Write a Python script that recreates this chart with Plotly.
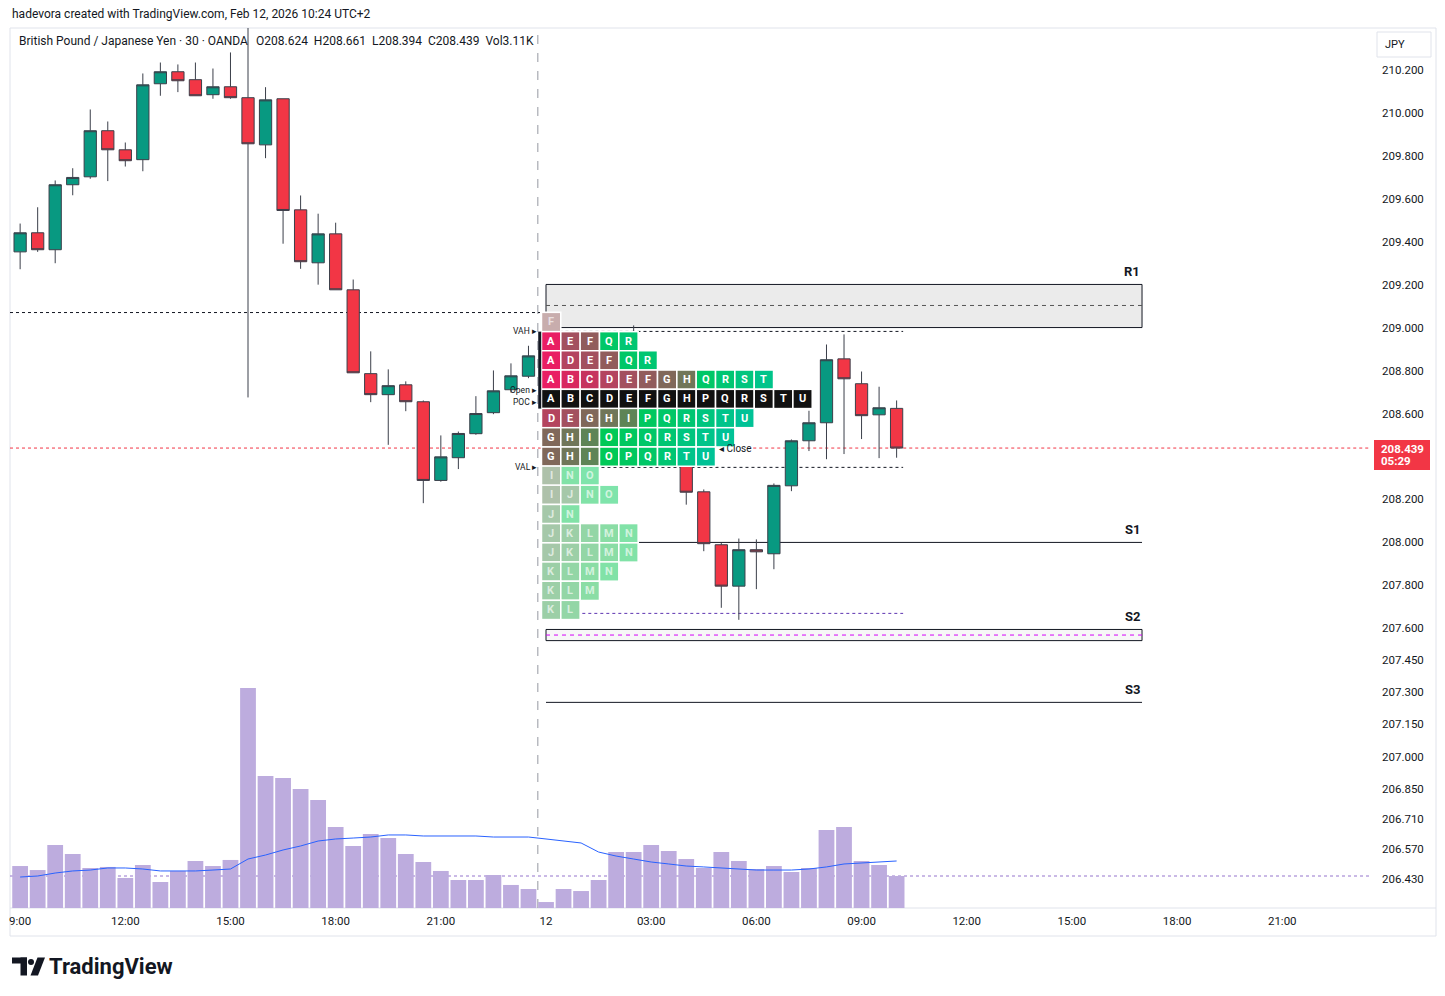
import plotly.graph_objects as go

# ---------------- DATA ----------------
day1_times = ["09:00", "09:30", "10:00", "10:30", "11:00", "11:30", "12:00", "12:30", "13:00", "13:30",
              "14:00", "14:30", "15:00", "15:30", "16:00", "16:30", "17:00", "17:30", "18:00", "18:30",
              "19:00", "19:30", "20:00", "20:30", "21:00", "21:30", "22:00", "22:30", "23:00", "23:30"]
day2_times = ["00:00", "00:30", "01:00", "01:30", "02:00", "02:30", "03:00", "03:30", "04:00", "04:30",
              "05:00", "05:30", "06:00", "06:30", "07:00", "07:30", "08:00", "08:30", "09:00", "09:30", "10:00"]
times = ["2026-02-11 " + t for t in day1_times] + ["2026-02-12 " + t for t in day2_times]

opens = [209.354, 209.443, 209.364, 209.667, 209.704, 209.919, 209.830, 209.784, 210.138, 210.194,
         210.157, 210.087, 210.124, 210.073, 209.853, 210.068, 209.550, 209.303, 209.438, 209.177,
         208.786, 208.688, 208.734, 208.655, 208.288, 208.394, 208.506, 208.604, 208.711, 208.774,
         208.698, 208.778, 208.731, 208.764, 208.838, 208.840, 208.708, 208.405, 208.544, 208.235,
         207.988, 207.795, 207.965, 207.946, 208.263, 208.473, 208.557, 208.855, 208.739, 208.594, 208.624]
highs = [209.486, 209.562, 209.687, 209.744, 210.018, 209.962, 209.864, 210.186, 210.237, 210.228,
         210.237, 210.209, 210.284, 210.433, 210.122, 210.068, 209.617, 209.532, 209.490, 209.225,
         208.890, 208.806, 208.750, 208.661, 208.498, 208.516, 208.681, 208.801, 208.834, 208.916,
         208.978, 208.796, 208.792, 208.885, 208.969, 209.011, 208.792, 208.792, 208.614, 208.246,
         207.996, 208.017, 208.013, 208.274, 208.479, 208.613, 208.922, 208.969, 208.796, 208.725, 208.661]
lows = [209.273, 209.354, 209.301, 209.618, 209.695, 209.684, 209.752, 209.730, 210.082, 210.099,
        210.082, 210.068, 210.068, 208.675, 209.791, 209.392, 209.275, 209.201, 209.177, 208.790,
        208.653, 208.454, 208.611, 208.182, 208.282, 208.341, 208.501, 208.597, 208.698, 208.765,
        208.642, 208.638, 208.638, 208.549, 208.549, 208.652, 208.372, 208.372, 208.175, 207.958,
        207.694, 207.638, 207.781, 207.874, 208.238, 208.425, 208.387, 208.411, 208.481, 208.392, 208.394]
closes = [209.443, 209.364, 209.667, 209.701, 209.919, 209.830, 209.779, 210.133, 210.194, 210.152,
          210.082, 210.124, 210.073, 209.858, 210.063, 209.547, 209.308, 209.438, 209.177, 208.790,
          208.688, 208.730, 208.655, 208.288, 208.398, 208.507, 208.600, 208.706, 208.776, 208.869,
          208.778, 208.731, 208.764, 208.838, 208.840, 208.708, 208.405, 208.544, 208.233, 207.993,
          207.795, 207.965, 207.955, 208.265, 208.473, 208.557, 208.851, 208.762, 208.590, 208.627, 208.439]

volume_k = [4.08, 3.69, 6.12, 5.25, 3.89, 3.99, 2.92, 4.18, 2.53, 3.60,
            4.57, 4.08, 4.67, 21.38, 12.83, 12.64, 11.57, 10.50, 7.87, 6.03,
            7.19, 6.80, 5.25, 4.47, 3.60, 2.72, 2.72, 3.21, 2.24, 1.85,
            0.58, 1.85, 1.65, 2.72, 5.44, 5.44, 6.12, 5.54, 4.76, 3.89,
            5.44, 4.57, 3.79, 4.08, 3.50, 3.89, 7.58, 7.87, 4.57, 4.18, 3.11]
volume_ma_k = [3.01, 3.11, 3.40, 3.60, 3.69, 3.89, 3.89, 3.79, 3.60, 3.60,
               3.60, 3.69, 3.79, 4.76, 5.15, 5.64, 6.03, 6.51, 6.71, 6.80,
               6.90, 7.10, 7.10, 7.00, 7.00, 7.00, 7.00, 6.90, 6.90, 6.90,
               6.71, 6.51, 6.32, 5.44, 5.05, 4.76, 4.47, 4.28, 4.08, 3.99,
               3.89, 3.79, 3.69, 3.69, 3.69, 3.79, 3.99, 4.28, 4.37, 4.47, 4.57]

# TPO market profile (rows from high price to low price)
tpo_prices = [209.027, 208.937, 208.848, 208.758, 208.668, 208.579, 208.489, 208.399,
              208.310, 208.221, 208.131, 208.042, 207.952, 207.863, 207.773, 207.684]
tpo_letters = ["F", "AEFQR", "ADEFQR", "ABCDEFGHQRST", "ABCDEFGHPQRSTU", "DEGHIPQRSTU",
               "GHIOPQRSTU", "GHIOPQRTU", "INO", "IJNO", "JN", "JKLMN", "JKLMN", "KLMN", "KLM", "KL"]
poc_price = 208.668
vah_price = 208.983
val_price = 208.349
open_price = 208.698
close_price = 208.439
profile_low_line = 207.668

# pivot levels
r1_zone = (209.001, 209.202)
r1_mid = 209.104
s1_level = 207.999
s2_zone = (207.541, 207.593)
s2_mid = 207.567
s3_level = 207.253
prev_session_level = 209.071

price_ticks = [210.2, 210.0, 209.8, 209.6, 209.4, 209.2, 209.0, 208.8, 208.6, 208.2, 208.0,
               207.8, 207.6, 207.45, 207.3, 207.15, 207.0, 206.85, 206.71, 206.57, 206.43]
time_ticks = ["2026-02-11 09:00", "2026-02-11 12:00", "2026-02-11 15:00", "2026-02-11 18:00",
              "2026-02-11 21:00", "2026-02-12 00:00", "2026-02-12 03:00", "2026-02-12 06:00",
              "2026-02-12 09:00", "2026-02-12 12:00", "2026-02-12 15:00", "2026-02-12 18:00",
              "2026-02-12 21:00"]
time_tick_text = ["9:00", "12:00", "15:00", "18:00", "21:00", "12", "03:00", "06:00", "09:00",
                  "12:00", "15:00", "18:00", "21:00"]

# ---------------- STYLE ----------------
FONT = "Roboto"
TXT = "#131722"
UP = "#089981"
DOWN = "#f23645"
letter_colors = {
    "A": "#e91e63", "B": "#d8285f", "C": "#c6345e", "D": "#b4445f", "E": "#a3505f", "F": "#915c5c",
    "G": "#80685a", "H": "#707659", "I": "#5e8456", "J": "#4c9253", "K": "#3aa050", "L": "#28ae4e",
    "M": "#16bc4c", "N": "#04c64f", "O": "#00c957", "P": "#00c85f", "Q": "#00c767", "R": "#00c672",
    "S": "#00c57e", "T": "#00c48a", "U": "#00c296",
}

W, H = 1445, 996
PL, PR, PT, PB = 10, 1370, 28, 908
X3_RANGE = [-27.48, 42.84]


def px_x(px):
    return (px - PL) / (PR - PL)


def px_y(py):
    return (PB - py) / (PB - PT)


def rgba(hexc, a):
    h = hexc.lstrip("#")
    return "rgba(%d,%d,%d,%.2f)" % (int(h[0:2], 16), int(h[2:4], 16), int(h[4:6], 16), a)


def blend(hexc, a, bg=(255, 255, 255)):
    h = hexc.lstrip("#")
    rgb = [int(h[i:i + 2], 16) for i in (0, 2, 4)]
    return "#%02x%02x%02x" % tuple(int(round(a * c + (1 - a) * b)) for c, b in zip(rgb, bg))


fig = go.Figure()

fig.add_trace(go.Candlestick(
    x=times, open=opens, high=highs, low=lows, close=closes,
    increasing=dict(fillcolor=UP, line=dict(color="#3b3f4a", width=1)),
    decreasing=dict(fillcolor=DOWN, line=dict(color="#3b3f4a", width=1)),
    whiskerwidth=0, showlegend=False, hoverinfo="skip", xaxis="x", yaxis="y",
))

fig.add_trace(go.Bar(
    x=times, y=volume_k, marker=dict(color="#bdacde", line=dict(width=0)),
    showlegend=False, hoverinfo="skip", xaxis="x", yaxis="y2",
))
fig.add_trace(go.Scatter(
    x=times, y=volume_ma_k, mode="lines", line=dict(color="#2962ff", width=1),
    showlegend=False, hoverinfo="skip", xaxis="x", yaxis="y2",
))
# anchor trace for the TPO column axis
fig.add_trace(go.Scatter(x=[0], y=[tpo_prices[0]], mode="markers", marker=dict(opacity=0),
                         showlegend=False, hoverinfo="skip", xaxis="x3", yaxis="y"))

shapes = []
annotations = []

# frame
shapes.append(dict(type="rect", xref="paper", yref="paper", x0=0, x1=px_x(1436), y0=px_y(936), y1=1,
                   line=dict(color="#e0e3eb", width=1), layer="below"))
shapes.append(dict(type="line", xref="paper", yref="paper", x0=0, x1=px_x(1436), y0=0, y1=0,
                   line=dict(color="#e0e3eb", width=1), layer="below"))

# session break
shapes.append(dict(type="line", xref="x", yref="paper", x0="2026-02-11 23:46", x1="2026-02-11 23:46",
                   y0=0, y1=1, line=dict(color="#9598a1", width=1, dash="dash"), layer="below"))

# previous session level dotted
shapes.append(dict(type="line", xref="paper", yref="y", x0=0, x1=px_x(540), y0=prev_session_level,
                   y1=prev_session_level, line=dict(color="#131722", width=1, dash="dot"), layer="below"))

# last price line (interrupted by the "Close" tag)
shapes.append(dict(type="line", xref="x3", yref="y", x0=X3_RANGE[0], x1=9.0, y0=close_price, y1=close_price,
                   line=dict(color=DOWN, width=1, dash="dot"), layer="below"))
shapes.append(dict(type="line", xref="x3", yref="y", x0=10.95, x1=X3_RANGE[1], y0=close_price, y1=close_price,
                   line=dict(color=DOWN, width=1, dash="dot"), layer="below"))
# last volume line
shapes.append(dict(type="line", xref="paper", yref="y2", x0=0, x1=1, y0=volume_k[-1], y1=volume_k[-1],
                   line=dict(color="#9575cd", width=1, dash="dot"), layer="below"))

# pivot zones / levels
z0, z1 = "2026-02-12 00:00", "2026-02-12 17:00"
shapes.append(dict(type="rect", xref="x", yref="y", x0=z0, x1=z1, y0=r1_zone[0], y1=r1_zone[1],
                   fillcolor="#ebebeb", line=dict(color="#131722", width=1), layer="below"))
shapes.append(dict(type="line", xref="x", yref="y", x0=z0, x1=z1, y0=r1_mid, y1=r1_mid,
                   line=dict(color="#555555", width=1, dash="4px,4px"), layer="below"))
shapes.append(dict(type="line", xref="x", yref="y", x0=z0, x1=z1, y0=s1_level, y1=s1_level,
                   line=dict(color="#131722", width=1), layer="below"))
shapes.append(dict(type="rect", xref="x", yref="y", x0=z0, x1=z1, y0=s2_zone[0], y1=s2_zone[1],
                   fillcolor="#f7f7f7", line=dict(color="#131722", width=1), layer="below"))
shapes.append(dict(type="line", xref="x", yref="y", x0=z0, x1=z1, y0=s2_mid, y1=s2_mid,
                   line=dict(color="#d500f9", width=1, dash="4px,4px"), layer="below"))
shapes.append(dict(type="line", xref="x", yref="y", x0=z0, x1=z1, y0=s3_level, y1=s3_level,
                   line=dict(color="#131722", width=1), layer="below"))
for lab, lv in [("R1", r1_zone[1]), ("S1", s1_level), ("S2", s2_zone[1]), ("S3", s3_level)]:
    annotations.append(dict(x=z1, y=lv, xref="x", yref="y", text=lab, showarrow=False,
                            xanchor="right", yanchor="middle", yshift=13,
                            font=dict(family=FONT, size=13, color=TXT, weight="bold")))

# TPO lines
shapes.append(dict(type="line", xref="x3", yref="y", x0=0, x1=18.7, y0=vah_price, y1=vah_price,
                   line=dict(color="#131722", width=1, dash="dot"), layer="below"))
shapes.append(dict(type="line", xref="x3", yref="y", x0=0, x1=18.7, y0=val_price, y1=val_price,
                   line=dict(color="#131722", width=1, dash="dot"), layer="below"))
shapes.append(dict(type="line", xref="x3", yref="y", x0=0.25, x1=18.7, y0=profile_low_line,
                   y1=profile_low_line, line=dict(color="#5e35b1", width=1, dash="dot"), layer="below"))

# TPO cells (white outline separates them and hides the candles beneath)
step = tpo_prices[0] - tpo_prices[1]
for r, (p, letters) in enumerate(zip(tpo_prices, tpo_letters)):
    in_va = val_price < p < vah_price
    is_poc = abs(p - poc_price) < step / 2
    for c, L in enumerate(letters):
        if is_poc:
            fill = "#111111"
            tcol = "#ffffff"
        elif in_va:
            fill = letter_colors[L]
            tcol = "#ffffff"
        else:
            fill = rgba(letter_colors[L], 0.5)
            tcol = "rgba(255,255,255,0.65)"
        # opaque white backing so candles underneath stay hidden for faded cells too
        shapes.append(dict(type="rect", xref="x3", yref="y", x0=c, x1=c + 1,
                           y0=p - step / 2, y1=p + step / 2, fillcolor="#ffffff",
                           line=dict(color="#ffffff", width=1.5), layer="above"))
        shapes.append(dict(type="rect", xref="x3", yref="y", x0=c + 0.04, x1=c + 0.96,
                           y0=p - step * 0.46, y1=p + step * 0.46, fillcolor=fill,
                           line=dict(width=0), layer="above"))
        annotations.append(dict(x=c + 0.5, y=p, xref="x3", yref="y", text=L, showarrow=False,
                                xanchor="center", yanchor="middle",
                                font=dict(family=FONT, size=11, color=tcol, weight="bold")))

# initial balance bar
shapes.append(dict(type="line", xref="x3", yref="y", x0=-0.09, x1=-0.09, y0=tpo_prices[4] - step / 2,
                   y1=tpo_prices[1] + step / 2, line=dict(color="#131722", width=3), layer="above"))

for lab, lv, ys in [("VAH ▸", vah_price, 0), ("Open ▸", open_price, 3), ("POC ▸", poc_price, -3),
                    ("VAL ▸", val_price, 0)]:
    annotations.append(dict(x=-0.15, y=lv, xref="x3", yref="y", text=lab, showarrow=False,
                            xanchor="right", yanchor="middle", yshift=ys,
                            font=dict(family=FONT, size=8.5, color=TXT)))
annotations.append(dict(x=9.07, y=close_price, xref="x3", yref="y", text="◂ Close", showarrow=False,
                        xanchor="left", yanchor="middle", font=dict(family=FONT, size=10, color=TXT)))

# header texts
annotations.append(dict(x=px_x(10), y=px_y(14), xref="paper", yref="paper", xanchor="left",
                        yanchor="middle", showarrow=False,
                        text="hadevora created with TradingView.com, Feb 12, 2026 10:24 UTC+2",
                        font=dict(family=FONT, size=12, color=TXT)))
annotations.append(dict(x=px_x(17), y=px_y(41), xref="paper", yref="paper", xanchor="left",
                        yanchor="middle", showarrow=False,
                        text="British Pound / Japanese Yen · 30 · OANDA",
                        font=dict(family=FONT, size=12, color=TXT)))
ohlc_txt = "O%.3f  H%.3f  L%.3f  C%.3f  Vol%.2fK" % (opens[-1], highs[-1], lows[-1], closes[-1], volume_k[-1])
annotations.append(dict(x=px_x(254), y=px_y(41), xref="paper", yref="paper", xanchor="left",
                        yanchor="middle", showarrow=False, text=ohlc_txt,
                        font=dict(family=FONT, size=12, color=TXT)))

# JPY button
shapes.append(dict(type="rect", xref="paper", yref="paper", x0=px_x(1377), x1=px_x(1431),
                   y0=px_y(57), y1=px_y(32), line=dict(color="#e0e3eb", width=1), fillcolor="#ffffff"))
annotations.append(dict(x=px_x(1395), y=px_y(44), xref="paper", yref="paper", text="JPY",
                        showarrow=False, xanchor="center", yanchor="middle",
                        font=dict(family=FONT, size=11, color=TXT)))

# last price label
shapes.append(dict(type="rect", xref="paper", yref="paper", x0=px_x(1374), x1=px_x(1430),
                   y0=px_y(470), y1=px_y(440), fillcolor=DOWN, line=dict(width=0)))
annotations.append(dict(x=px_x(1379), y=px_y(449), xref="paper", yref="paper", text="%.3f" % close_price,
                        showarrow=False, xanchor="left", yanchor="middle",
                        font=dict(family=FONT, size=11.5, color="#ffffff", weight="bold")))
annotations.append(dict(x=px_x(1379), y=px_y(461.5), xref="paper", yref="paper", text="05:29",
                        showarrow=False, xanchor="left", yanchor="middle",
                        font=dict(family=FONT, size=11.5, color="#ffffff", weight="bold")))

# TradingView logo
shapes.append(dict(type="rect", xref="paper", yref="paper", x0=px_x(12), x1=px_x(27),
                   y0=px_y(963.5), y1=px_y(957.5), fillcolor="#131722", line=dict(width=0)))
shapes.append(dict(type="rect", xref="paper", yref="paper", x0=px_x(20.5), x1=px_x(27),
                   y0=px_y(975.5), y1=px_y(957.5), fillcolor="#131722", line=dict(width=0)))
shapes.append(dict(type="circle", xref="paper", yref="paper", x0=px_x(28), x1=px_x(34),
                   y0=px_y(965), y1=px_y(959), fillcolor="#131722", line=dict(width=0)))
shapes.append(dict(type="path", xref="paper", yref="paper",
                   path="M %f %f L %f %f L %f %f L %f %f Z" % (px_x(37.5), px_y(957.5), px_x(45), px_y(957.5),
                                                               px_x(38), px_y(975.5), px_x(30.5), px_y(975.5)),
                   fillcolor="#131722", line=dict(width=0)))
annotations.append(dict(x=px_x(47), y=px_y(966), xref="paper", yref="paper", text="TradingView",
                        showarrow=False, xanchor="left", yanchor="middle",
                        font=dict(family=FONT, size=22, color=TXT, weight="bold")))

fig.update_layout(
    width=W, height=H,
    margin=dict(l=PL, r=W - PR, t=PT, b=H - PB),
    paper_bgcolor="#ffffff", plot_bgcolor="#ffffff",
    showlegend=False, bargap=0.1, boxgap=0.3, boxgroupgap=0,
    font=dict(family=FONT, color=TXT),
    xaxis=dict(type="date", range=["2026-02-11 08:42:40", "2026-02-12 23:30:10"],
               tickvals=time_ticks, ticktext=time_tick_text, showgrid=False, zeroline=False,
               showline=False, ticks="", ticklabelstandoff=4, rangeslider=dict(visible=False),
               tickfont=dict(family=FONT, size=11.5, color=TXT), fixedrange=True),
    yaxis=dict(range=[206.294, 210.398], side="right", tickvals=price_ticks,
               ticktext=["%.3f" % v for v in price_ticks], showgrid=False, zeroline=False,
               showline=False, ticks="", ticklabelstandoff=11,
               tickfont=dict(family=FONT, size=11.5, color=TXT)),
    yaxis2=dict(range=[0, 85.54], overlaying="y", visible=False, anchor="x"),
    xaxis3=dict(range=X3_RANGE, overlaying="x", visible=False, anchor="y"),
    shapes=shapes, annotations=annotations,
)

fig.write_html("out.html")
